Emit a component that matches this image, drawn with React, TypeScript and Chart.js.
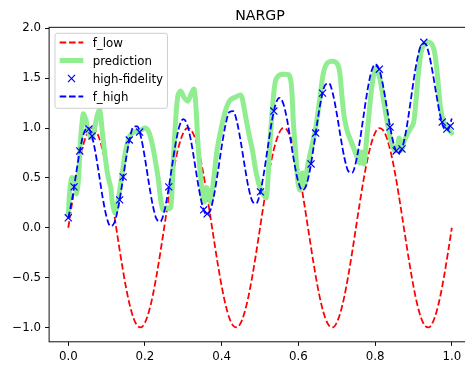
import React, { useEffect, useRef } from "react";
import { Chart, registerables } from "chart.js";

Chart.register(...registerables);

// ---------------- data ----------------
const chartTitle = "NARGP";
const seriesLabels = ["f_low", "prediction", "high-fidelity", "f_high"];

const xGrid = [
  0, 0.01, 0.02, 0.03, 0.04, 0.05, 0.06, 0.07, 0.08, 0.09,
  0.1, 0.11, 0.12, 0.13, 0.14, 0.15, 0.16, 0.17, 0.18, 0.19,
  0.2, 0.21, 0.22, 0.23, 0.24, 0.25, 0.26, 0.27, 0.28, 0.29,
  0.3, 0.31, 0.32, 0.33, 0.34, 0.35, 0.36, 0.37, 0.38, 0.39,
  0.4, 0.41, 0.42, 0.43, 0.44, 0.45, 0.46, 0.47, 0.48, 0.49,
  0.5, 0.51, 0.52, 0.53, 0.54, 0.55, 0.56, 0.57, 0.58, 0.59,
  0.6, 0.61, 0.62, 0.63, 0.64, 0.65, 0.66, 0.67, 0.68, 0.69,
  0.7, 0.71, 0.72, 0.73, 0.74, 0.75, 0.76, 0.77, 0.78, 0.79,
  0.8, 0.81, 0.82, 0.83, 0.84, 0.85, 0.86, 0.87, 0.88, 0.89,
  0.9, 0.91, 0.92, 0.93, 0.94, 0.95, 0.96, 0.97, 0.98, 0.99,
  1,
];

const fLow = [
  0, 0.249, 0.482, 0.685, 0.844, 0.951, 0.998, 0.982, 0.905, 0.771,
  0.588, 0.368, 0.125, -0.125, -0.368, -0.588, -0.771, -0.905, -0.982, -0.998,
  -0.951, -0.844, -0.685, -0.482, -0.249, 0, 0.249, 0.482, 0.685, 0.844,
  0.951, 0.998, 0.982, 0.905, 0.771, 0.588, 0.368, 0.125, -0.125, -0.368,
  -0.588, -0.771, -0.905, -0.982, -0.998, -0.951, -0.844, -0.685, -0.482, -0.249,
  0, 0.249, 0.482, 0.685, 0.844, 0.951, 0.998, 0.982, 0.905, 0.771,
  0.588, 0.368, 0.125, -0.125, -0.368, -0.588, -0.771, -0.905, -0.982, -0.998,
  -0.951, -0.844, -0.685, -0.482, -0.249, 0, 0.249, 0.482, 0.685, 0.844,
  0.951, 0.998, 0.982, 0.905, 0.771, 0.588, 0.368, 0.125, -0.125, -0.368,
  -0.588, -0.771, -0.905, -0.982, -0.998, -0.951, -0.844, -0.685, -0.482, -0.249,
  0,
];

const fHigh = [
  0.096, 0.287, 0.532, 0.769, 0.94, 1.003, 0.942, 0.773, 0.538, 0.295,
  0.106, 0.016, 0.05, 0.198, 0.426, 0.677, 0.89, 1.013, 1.017, 0.901,
  0.695, 0.45, 0.23, 0.088, 0.062, 0.158, 0.355, 0.604, 0.846, 1.022,
  1.09, 1.034, 0.87, 0.64, 0.403, 0.218, 0.134, 0.172, 0.326, 0.558,
  0.815, 1.033, 1.161, 1.169, 1.058, 0.857, 0.618, 0.402, 0.266, 0.244,
  0.346, 0.547, 0.802, 1.049, 1.23, 1.303, 1.252, 1.093, 0.868, 0.635,
  0.456, 0.376, 0.42, 0.578, 0.816, 1.077, 1.3, 1.433, 1.447, 1.341,
  1.145, 0.91, 0.7, 0.568, 0.552, 0.658, 0.865, 1.124, 1.376, 1.562,
  1.64, 1.594, 1.44, 1.22, 0.993, 0.818, 0.744, 0.792, 0.956, 1.198,
  1.465, 1.693, 1.831, 1.849, 1.748, 1.557, 1.328, 1.122, 0.996, 0.984,
  1.096,
];

const predX = [
  0, 0.004, 0.009, 0.016, 0.022, 0.027, 0.031, 0.039, 0.046, 0.053,
  0.061, 0.068, 0.075, 0.082, 0.089, 0.096, 0.102, 0.107, 0.111, 0.115,
  0.121, 0.128, 0.135, 0.142, 0.15, 0.16, 0.172, 0.186, 0.2, 0.21,
  0.22, 0.228, 0.235, 0.241, 0.247, 0.256, 0.263, 0.268, 0.274, 0.28,
  0.286, 0.293, 0.303, 0.312, 0.32, 0.328, 0.333, 0.338, 0.344, 0.35,
  0.355, 0.361, 0.366, 0.371, 0.378, 0.388, 0.4, 0.412, 0.422, 0.436,
  0.45, 0.456, 0.464, 0.472, 0.48, 0.49, 0.5, 0.508, 0.516, 0.52,
  0.525, 0.532, 0.54, 0.55, 0.565, 0.576, 0.582, 0.587, 0.593, 0.599,
  0.604, 0.61, 0.616, 0.624, 0.634, 0.645, 0.656, 0.665, 0.675, 0.69,
  0.702, 0.708, 0.714, 0.72, 0.728, 0.74, 0.752, 0.76, 0.765, 0.771,
  0.777, 0.786, 0.794, 0.802, 0.812, 0.822, 0.832, 0.842, 0.85, 0.857,
  0.863, 0.869, 0.877, 0.89, 0.9, 0.906, 0.913, 0.92, 0.928, 0.938,
  0.948, 0.955, 0.962, 0.97, 0.978, 0.988, 1,
];

const predY = [
  0.13, 0.38, 0.5, 0.49, 0.34, 0.5, 0.82, 1.14, 1.08, 0.95,
  0.9, 0.98, 1.12, 1.18, 0.95, 0.72, 0.55, 0.46, 0.4, 0.25,
  0.15, 0.24, 0.4, 0.58, 0.78, 0.92, 0.96, 0.97, 1.0, 0.96,
  0.82, 0.65, 0.48, 0.28, 0.18, 0.2, 0.19, 0.22, 0.68, 1.08,
  1.33, 1.37, 1.3, 1.27, 1.34, 1.39, 1.2, 0.85, 0.55, 0.33,
  0.26, 0.4, 0.35, 0.26, 0.45, 0.78, 1.02, 1.2, 1.28, 1.31,
  1.33, 1.25, 1.08, 0.92, 0.78, 0.55, 0.4, 0.34, 0.3, 0.45,
  0.8, 1.18, 1.47, 1.53, 1.54, 1.53, 1.42, 1.05, 0.75, 0.45,
  0.38, 0.55, 0.42, 0.62, 0.8, 1.0, 1.3, 1.55, 1.65, 1.67,
  1.64, 1.55, 1.3, 1.1, 0.96, 0.84, 0.72, 0.65, 0.76, 0.64,
  0.85, 1.22, 1.48, 1.6, 1.5, 1.28, 1.05, 0.86, 0.78, 0.8,
  0.9, 0.78, 0.88, 0.98, 1.05, 1.25, 1.55, 1.76, 1.84, 1.86,
  1.84, 1.76, 1.55, 1.22, 1.07, 1.0, 0.95,
];

const hfX = [
  0, 0.015, 0.03, 0.054, 0.062, 0.134, 0.143, 0.159, 0.186, 0.262,
  0.353, 0.362, 0.501, 0.536, 0.633, 0.645, 0.663, 0.811, 0.839, 0.855,
  0.87, 0.927, 0.975, 0.987, 0.996,
];
const hfY = [
  0.1, 0.41, 0.77, 0.99, 0.92, 0.28, 0.51, 0.88, 0.96, 0.41,
  0.18, 0.14, 0.36, 1.17, 0.64, 0.95, 1.35, 1.59, 1.01, 0.77,
  0.79, 1.86, 1.06, 0.99, 1.02,
];

// ---------------- styling / layout ----------------
const W = 480;
const H = 365;
const AREA = { left: 49.1, top: 27.3, right: 471, bottom: 341.8 };
const FONT = '"DejaVu Sans", "Liberation Sans", sans-serif';
const TICK_SIZE = 11.8;
const RED = "#ff0000";
const BLUE = "#0000ff";
const GREEN = "#90ee90";
const DASH = [6.55, 2.83];
const DASH_W = 1.77;

const fmt = (v: number) => {
  const s = Number(v).toFixed(1);
  return s.startsWith("-") ? "\u2212" + s.slice(1) : s;
};

const decorPlugin = {
  id: "decor",
  afterDatasetsDraw(chart: any) {
    const ctx = chart.ctx as CanvasRenderingContext2D;
    const a = chart.chartArea;
    ctx.save();
    // spines
    ctx.strokeStyle = "#000";
    ctx.lineWidth = 0.94;
    ctx.setLineDash([]);
    ctx.strokeRect(a.left, a.top, a.right - a.left, a.bottom - a.top);

    // title
    ctx.fillStyle = "#000";
    ctx.font = `14.2px ${FONT}`;
    ctx.textAlign = "center";
    ctx.textBaseline = "alphabetic";
    ctx.fillText(chartTitle, (a.left + a.right) / 2, a.top - 7);

    // legend
    const lx0 = a.left + 5.9;
    const ly0 = a.top + 6;
    const lx1 = 167.5;
    const ly1 = 108.3;
    ctx.beginPath();
    (ctx as any).roundRect(lx0, ly0, lx1 - lx0, ly1 - ly0, 2.4);
    ctx.fillStyle = "rgba(255,255,255,0.8)";
    ctx.fill();
    ctx.strokeStyle = "#cccccc";
    ctx.lineWidth = 0.94;
    ctx.stroke();

    const hx0 = lx0 + 4.7;
    const hx1 = hx0 + 23.6;
    const tx = hx1 + 9.4;
    const baselines = [46.5, 64.5, 82.5, 100.5];
    ctx.font = `${TICK_SIZE}px ${FONT}`;
    ctx.textAlign = "left";
    seriesLabels.forEach((label, i) => {
      const b = baselines[i];
      const cy = b - 4;
      ctx.save();
      if (i === 0 || i === 3) {
        ctx.strokeStyle = i === 0 ? RED : BLUE;
        ctx.lineWidth = DASH_W;
        ctx.setLineDash(DASH);
        ctx.beginPath();
        ctx.moveTo(hx0, cy);
        ctx.lineTo(hx1, cy);
        ctx.stroke();
      } else if (i === 1) {
        ctx.strokeStyle = GREEN;
        ctx.lineWidth = 5;
        ctx.beginPath();
        ctx.moveTo(hx0, cy);
        ctx.lineTo(hx1, cy);
        ctx.stroke();
      } else {
        const cx = (hx0 + hx1) / 2;
        const d = 3.55;
        ctx.strokeStyle = BLUE;
        ctx.lineWidth = 1.18;
        ctx.beginPath();
        ctx.moveTo(cx - d, cy - d);
        ctx.lineTo(cx + d, cy + d);
        ctx.moveTo(cx - d, cy + d);
        ctx.lineTo(cx + d, cy - d);
        ctx.stroke();
      }
      ctx.restore();
      ctx.fillStyle = "#000";
      ctx.fillText(label, tx, b);
    });
    ctx.restore();
  },
};

export default function App() {
  const ref = useRef<HTMLCanvasElement | null>(null);

  useEffect(() => {
    const canvas = ref.current;
    if (!canvas) return;

    const lowPts = xGrid.map((x, i) => ({ x, y: fLow[i] }));
    const highPts = xGrid.map((x, i) => ({ x, y: fHigh[i] }));
    const predPts = predX.map((x, i) => ({ x, y: predY[i] }));
    const hfPts = hfX.map((x, i) => ({ x, y: hfY[i] }));

    const tickFont = { family: FONT, size: TICK_SIZE };

    const chart = new Chart(canvas, {
      type: "line",
      data: {
        datasets: [
          {
            label: seriesLabels[3],
            data: highPts,
            borderColor: BLUE,
            borderWidth: DASH_W,
            borderDash: DASH,
            pointRadius: 0,
            cubicInterpolationMode: "monotone",
            fill: false,
          },
          {
            label: seriesLabels[2],
            data: hfPts,
            showLine: false,
            pointStyle: "crossRot",
            pointRadius: 5,
            pointBorderColor: BLUE,
            pointBackgroundColor: "transparent",
            pointBorderWidth: 1.18,
            borderColor: BLUE,
          },
          {
            label: seriesLabels[1],
            data: predPts,
            borderColor: GREEN,
            borderWidth: 5,
            pointRadius: 0,
            tension: 0.3,
            borderJoinStyle: "round",
            borderCapStyle: "round",
            fill: false,
          },
          {
            label: seriesLabels[0],
            data: lowPts,
            borderColor: RED,
            borderWidth: DASH_W,
            borderDash: DASH,
            pointRadius: 0,
            cubicInterpolationMode: "monotone",
            fill: false,
          },
        ],
      } as any,
      options: {
        responsive: false,
        animation: false,
        devicePixelRatio: 1,
        events: [],
        layout: {
          padding: { left: 0, top: AREA.top, right: W - AREA.right, bottom: 0 },
        },
        plugins: {
          legend: { display: false },
          title: { display: false },
          tooltip: { enabled: false },
        },
        scales: {
          x: {
            type: "linear",
            min: -0.05,
            max: 1.05,
            afterFit: (s: any) => {
              s.height = H - AREA.bottom;
            },
            ticks: {
              stepSize: 0.2,
              includeBounds: false,
              autoSkip: false,
              maxRotation: 0,
              padding: 4.1,
              color: "#000",
              font: tickFont,
              callback: (v: any) => fmt(v),
            },
            grid: {
              display: true,
              drawOnChartArea: false,
              drawTicks: true,
              tickLength: 4.1,
              tickWidth: 0.94,
              tickColor: "#000",
            },
            border: { display: false },
          },
          y: {
            type: "linear",
            min: -1.1435,
            max: 2.01,
            afterFit: (s: any) => {
              s.width = AREA.left;
            },
            ticks: {
              stepSize: 0.5,
              includeBounds: false,
              autoSkip: false,
              padding: 4.1,
              color: "#000",
              font: tickFont,
              callback: (v: any) => fmt(v),
            },
            grid: {
              display: true,
              drawOnChartArea: false,
              drawTicks: true,
              tickLength: 4.1,
              tickWidth: 0.94,
              tickColor: "#000",
            },
            border: { display: false },
          },
        },
      } as any,
      plugins: [decorPlugin],
    });

    return () => chart.destroy();
  }, []);

  return (
    <div
      style={{
        position: "fixed",
        left: 0,
        top: 0,
        width: 465,
        height: 365,
        overflow: "hidden",
        background: "#fff",
      }}
    >
      <canvas
        ref={ref}
        width={W}
        height={H}
        style={{ width: W, height: H, display: "block" }}
      />
    </div>
  );
}
